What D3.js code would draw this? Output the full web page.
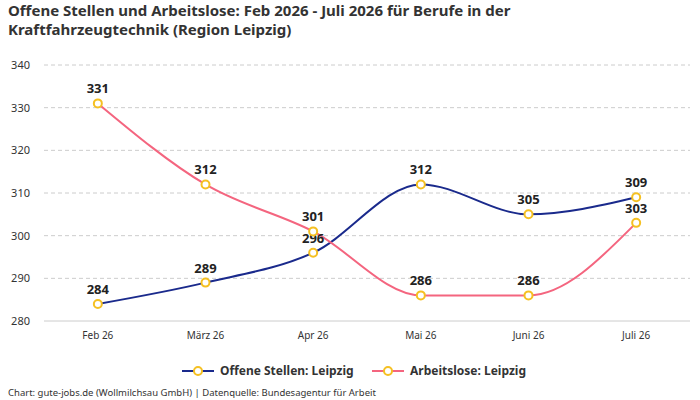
<!DOCTYPE html><html><head><meta charset="utf-8"><script src="https://cdn.jsdelivr.net/npm/d3@7"></script>
<style>body{margin:0;background:#fff}text{font-family:"Noto Sans",sans-serif}</style></head><body><svg id="c" width="700" height="400"></svg>
<script>
const categories=["Feb 26","März 26","Apr 26","Mai 26","Juni 26","Juli 26"];
const offene=[284,289,296,312,305,309];
const arbeitslose=[331,312,301,286,286,303];
const yTicks=[280,290,300,310,320,330,340];
const svg=d3.select("#c");
const x=d3.scalePoint().domain(categories).range([44,690]).padding(0.5);
const y=d3.scaleLinear().domain([280,340]).range([321,65]);
svg.append("text").attr("x",8).attr("y",16).attr("font-size",15).attr("font-weight",700).attr("fill","#333").text("Offene Stellen und Arbeitslose: Feb 2026 - Juli 2026 für Berufe in der");
svg.append("text").attr("x",8).attr("y",35).attr("font-size",15).attr("font-weight",700).attr("fill","#333").text("Kraftfahrzeugtechnik (Region Leipzig)");
const g=svg.append("g");
yTicks.forEach(t=>{
 g.append("line").attr("x1",44).attr("x2",690).attr("y1",y(t)).attr("y2",y(t)).attr("stroke","#ccc").attr("stroke-dasharray",t==280?null:"4,3");
 g.append("text").attr("x",30).attr("y",y(t)+4).attr("text-anchor","end").attr("font-size",11).attr("fill","#333").text(t);
});
categories.forEach(c=>g.append("text").attr("x",x(c)).attr("y",339).attr("text-anchor","middle").attr("font-size",10).attr("fill","#333").text(c));
const series=[{name:"Offene Stellen: Leipzig",vals:offene,color:"#1a2a8c",above:true},{name:"Arbeitslose: Leipzig",vals:arbeitslose,color:"#f4657f",above:true}];
const line=d3.line().x((d,i)=>x(categories[i])).y(d=>y(d)).curve(d3.curveMonotoneX);
series.forEach(s=>{
 g.append("path").attr("d",line(s.vals)).attr("fill","none").attr("stroke",s.color).attr("stroke-width",2);
});
series.forEach(s=>{
 s.vals.forEach((v,i)=>{
  g.append("circle").attr("cx",x(categories[i])).attr("cy",y(v)).attr("r",4).attr("fill","#fff").attr("stroke","#f5c022").attr("stroke-width",2);
  g.append("text").attr("x",x(categories[i])).attr("y",y(v)-10).attr("text-anchor","middle").attr("font-size",13).attr("font-weight",700).attr("fill","#222").text(v);
 });
});
const leg=[{n:series[0].name,c:series[0].color,x:182},{n:series[1].name,c:series[1].color,x:372}];
leg.forEach(l=>{
 svg.append("line").attr("x1",l.x).attr("x2",l.x+32).attr("y1",371).attr("y2",371).attr("stroke",l.c).attr("stroke-width",2);
 svg.append("circle").attr("cx",l.x+16).attr("cy",371).attr("r",4).attr("fill","#fff").attr("stroke","#f5c022").attr("stroke-width",2);
 svg.append("text").attr("x",l.x+38).attr("y",375).attr("font-size",12).attr("font-weight",700).attr("fill","#333").text(l.n);
});
svg.append("text").attr("x",8).attr("y",396).attr("font-size",9.5).attr("fill","#333").text("Chart: gute-jobs.de (Wollmilchsau GmbH) | Datenquelle: Bundesagentur für Arbeit");
</script></body></html>
